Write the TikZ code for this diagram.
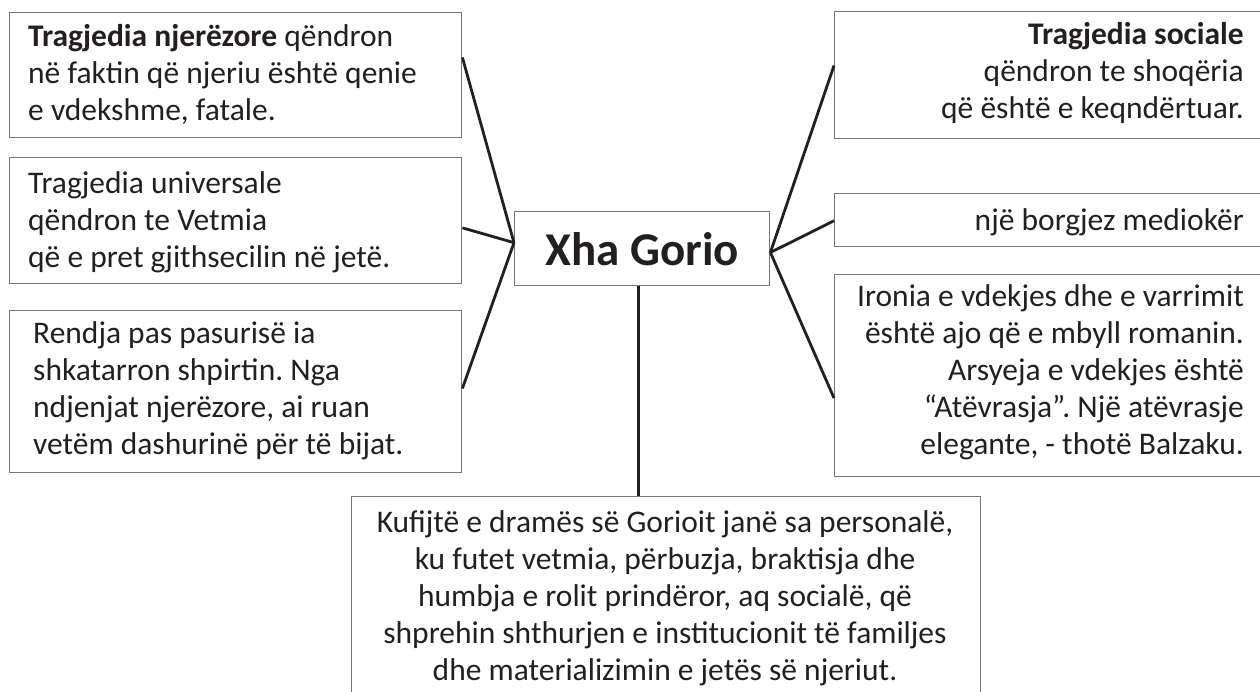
\documentclass[tikz,border=0pt]{standalone}
\usepackage{fontspec}
\setmainfont{Carlito}
\usetikzlibrary{calc}
\definecolor{framegray}{HTML}{777777}
\definecolor{inkblack}{HTML}{231F20}
\tikzset{
	frame/.style={draw=framegray, line width=1.4pt, anchor=north west, inner sep=0pt},
	txt/.style={inner sep=0pt, text=inkblack, font=\fontsize{31.5}{37}\selectfont\frenchspacing},
	link/.style={draw=inkblack, line width=2.8pt},
}

\begin{document}
\begin{tikzpicture}[x=1pt, y=-1pt]
	\useasboundingbox (0,0) rectangle (1260,692);

	\node[frame, minimum width=452, minimum height=125] (tragNj) at (9,12) {};
	\node[frame, minimum width=452, minimum height=126] (tragUni) at (9,157) {};
	\node[frame, minimum width=452, minimum height=162] (rendja) at (9,310) {};
	\node[frame, minimum width=430, minimum height=127] (tragSoc) at (834,11) {};
	\node[frame, minimum width=430, minimum height=53] (borgjez) at (834,193) {};
	\node[frame, minimum width=430, minimum height=202] (ironia) at (834,274) {};
	\node[frame, minimum width=629, minimum height=220] (kufijte) at (351,496) {};
	\node[frame, minimum width=255, minimum height=74, text=inkblack,
		font=\fontsize{47}{50}\selectfont\bfseries] (xhaGorio) at (514,211) {Xha Gorio};

	\node[txt, anchor=north west, align=left] (tragNjTxt) at (28,20.1)
		{\strut\textbf{Tragjedia njerëzore} qëndron\\në faktin që njeriu është qenie\\e vdekshme, fatale.};
	\node[txt, anchor=north west, align=left] (tragUniTxt) at (28,167.1)
		{\strut Tragjedia universale\\qëndron te Vetmia\\që e pret gjithsecilin në jetë.};
	\node[txt, anchor=north west, align=left] (rendjaTxt) at (33,317.1)
		{\strut Rendja pas pasurisë ia\\shkatarron shpirtin. Nga\\ndjenjat njerëzore, ai ruan\\vetëm dashurinë për të bijat.};
	\node[txt, anchor=north east, align=right] (tragSocTxt) at (1244,18.1)
		{\strut\textbf{Tragjedia sociale}\\qëndron te shoqëria\\që është e keqndërtuar.};
	\node[txt, anchor=north east, align=right] (borgjezTxt) at (1244,204.1)
		{\strut një borgjez mediokër};
	\node[txt, anchor=north east, align=right] (ironiaTxt) at (1244,280.1)
		{\strut Ironia e vdekjes dhe e varrimit\\është ajo që e mbyll romanin.\\Arsyeja e vdekjes është\\“Atëvrasja”. Një atëvrasje\\elegante, - thotë Balzaku.};
	\node[txt, anchor=north, align=center] (kufijteTxt) at (665,506.1)
		{\strut Kufijtë e dramës së Gorioit janë sa personalë,\\ku futet vetmia, përbuzja, braktisja dhe\\humbja e rolit prindëror, aq socialë, që\\shprehin shthurjen e institucionit të familjes\\dhe materializimin e jetës së njeriut.};

	\coordinate (hubL) at ($(xhaGorio.north west)!0.42!(xhaGorio.south west)$);
	\coordinate (hubR) at ($(xhaGorio.north east)!0.55!(xhaGorio.south east)$);
	\coordinate (gorioFoot) at ($(xhaGorio.south west)!0.486!(xhaGorio.south east)$);

	\draw[link] ($(tragNj.north east)!0.36!(tragNj.south east)$) -- (hubL);
	\draw[link] ($(tragUni.north east)!0.556!(tragUni.south east)$) -- (hubL);
	\draw[link] ($(rendja.north east)!0.48!(rendja.south east)$) -- (hubL);
	\draw[link] (hubR) -- ($(tragSoc.north west)!0.425!(tragSoc.south west)$);
	\draw[link] (hubR) -- ($(borgjez.north west)!0.51!(borgjez.south west)$);
	\draw[link] (hubR) -- ($(ironia.north west)!0.61!(ironia.south west)$);
	\draw[link] (gorioFoot) -- (gorioFoot |- kufijte.north);
\end{tikzpicture}
\end{document}
